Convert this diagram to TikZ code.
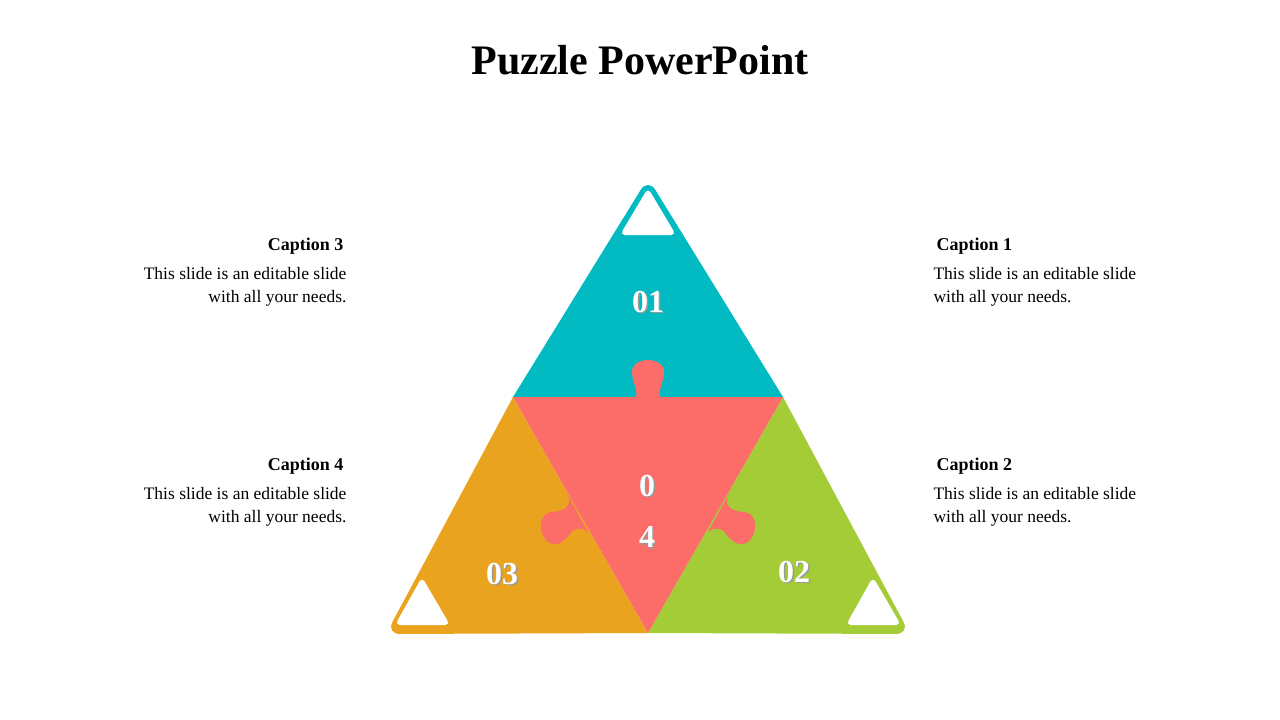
\documentclass[tikz,border=0pt]{standalone}
\usepackage{fontspec}
\setmainfont{Liberation Serif}
\definecolor{cy}{HTML}{02BBC2}
\definecolor{rd}{HTML}{FC6C68}
\definecolor{og}{HTML}{EAA31E}
\definecolor{gr}{HTML}{A3CC37}
\begin{document}
\begin{tikzpicture}[x=1pt,y=-1pt,
  num/.style={text=white,font=\bfseries\fontsize{32}{32}\selectfont},
  captitle/.style={font=\bfseries\fontsize{18}{20}\selectfont},
  body/.style={font=\fontsize{17.5}{23}\selectfont,align=#1},
  hole/.style={fill=white,rounded corners=5pt}]
\useasboundingbox (0,0) rectangle (1280,720);
\node (title) at (640,60) {\bfseries\fontsize{42}{46}\selectfont Puzzle PowerPoint};
% pieces
\fill[cy] (513,397) [rounded corners=14pt] -- (648,178) [sharp corners] -- (783,397) -- cycle;
\fill[og] (513,397) -- (648,633) [rounded corners=14pt] -- (386,634) [sharp corners] -- cycle;
\fill[gr] (783,397) [rounded corners=14pt] -- (910,634) [sharp corners] -- (648,633) -- cycle;
\fill[rd] (513,397) -- (783,397) -- (648,633) -- cycle;
% tabs
\fill[rd] (632,398) .. controls (642,398) and (632,383) .. (632,372) .. controls (632,356) and (664,356) .. (664,372) .. controls (664,383) and (654,398) .. (664,398) -- cycle;
\fill[rd] (566,492) .. controls (576,508) and (560,512) .. (551,512) .. controls (540,514) and (536,530) .. (548,542) .. controls (558,548) and (565,540) .. (570,534) .. controls (575,526) and (583,528) .. (588,532) -- cycle;
\fill[rd] (730,492) .. controls (720,508) and (736,512) .. (745,512) .. controls (756,514) and (760,530) .. (748,542) .. controls (738,548) and (731,540) .. (726,534) .. controls (721,526) and (713,528) .. (708,532) -- cycle;
% holes
\fill[hole] (648,188) -- (620,235) -- (676,235) -- cycle;
\fill[hole] (422,577) -- (395,625) -- (450,625) -- cycle;
\fill[hole] (873,577) -- (846,625) -- (901,625) -- cycle;
% numbers
\node[num,text=black!40] at (649.5,303.5) {01};
\node[num] (n1) at (648,302) {01};
\node[num,text=black!40] at (795.5,573.5) {02};
\node[num] (n2) at (794,572) {02};
\node[num,text=black!40] at (503.5,575.5) {03};
\node[num] (n3) at (502,574) {03};
\node[num,text=black!40] at (648.5,487.5) {0};
\node[num] (n4a) at (647,486) {0};
\node[num,text=black!40] at (648.5,538.5) {4};
\node[num] (n4b) at (647,537) {4};
% captions
\node[captitle,anchor=east] (c3) at (347,246) {Caption 3};
\node[body=right,anchor=north east] (t3) at (350,264) {This slide is an editable slide\\with all your needs.};
\node[captitle,anchor=east] (c4) at (347,466) {Caption 4};
\node[body=right,anchor=north east] (t4) at (350,484) {This slide is an editable slide\\with all your needs.};
\node[captitle,anchor=west] (c1) at (933,246) {Caption 1};
\node[body=left,anchor=north west] (t1) at (930,264) {This slide is an editable slide\\with all your needs.};
\node[captitle,anchor=west] (c2) at (933,466) {Caption 2};
\node[body=left,anchor=north west] (t2) at (930,484) {This slide is an editable slide\\with all your needs.};
\end{tikzpicture}
\end{document}
